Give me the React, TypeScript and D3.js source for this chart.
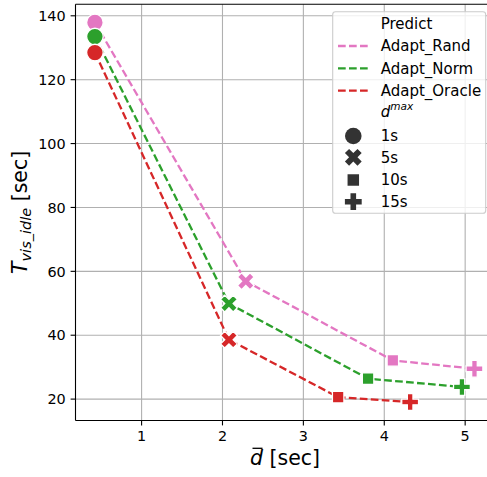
import React from 'react';
import * as d3 from 'd3';

// series, one value per d^max setting (1s, 5s, 10s, 15s)
const seriesNames = ['Adapt_Rand', 'Adapt_Norm', 'Adapt_Oracle'];
const seriesColors = ['#e377c2', '#2ca02c', '#d62728'];
const randX = [0.423, 2.288, 4.106, 5.115];
const randY = [137.9, 56.9, 32.1, 29.5];
const normX = [0.423, 2.08, 3.8, 4.96];
const normY = [133.5, 49.9, 26.4, 23.8];
const oracleX = [0.423, 2.08, 3.43, 4.32];
const oracleY = [128.5, 38.6, 20.6, 19.1];
const dmaxLabels = ['1s', '5s', '10s', '15s'];
const markerKinds = ['circle', 'x', 'square', 'plus'];
const xTicks = [1, 2, 3, 4, 5];
const yTicks = [20, 40, 60, 80, 100, 120, 140];

const W = 487;
const H = 477;
const margin = { top: 4.3, right: 0, bottom: 56.5, left: 75.5 };
const FONT = 'DejaVu Sans, sans-serif';

const markerPath = (kind: string) => {
  if (kind === 'circle') return d3.symbol(d3.symbolCircle, 216)();
  if (kind === 'square') return d3.symbol(d3.symbolSquare, 132)();
  if (kind === 'plus') return d3.symbol(d3.symbolCross, 157)();
  return d3.symbol(d3.symbolCross, 176)(); // rotated for the X
};

const Marker = ({ kind, x, y, color, edge }: any) => (
  <path
    d={markerPath(kind) || ''}
    transform={`translate(${x},${y})${kind === 'x' ? ' rotate(45)' : ''}`}
    fill={color}
    stroke={edge ? '#fff' : 'none'}
    strokeWidth={1.3}
  />
);

const App = () => {
  const x = d3.scaleLinear().domain([0.183, 5.27]).range([margin.left, W - margin.right]);
  const y = d3.scaleLinear().domain([13.3, 143.6]).range([H - margin.bottom, margin.top]);

  const series = [
    { xs: randX, ys: randY },
    { xs: normX, ys: normY },
    { xs: oracleX, ys: oracleY },
  ];

  const line = d3.line<[number, number]>()
    .x(d => x(d[0]))
    .y(d => y(d[1]));

  const x0 = margin.left;
  const x1 = W - margin.right;
  const y0 = H - margin.bottom;
  const y1 = margin.top;

  // legend layout
  const lgX = 332.7;
  const lgY = 11.7;
  const rowY = [24, 46, 68.3, 90.7];
  const markRowY = [136, 157.3, 180, 201.7];

  return (
    <svg width={W} height={H} style={{ position: 'absolute', left: 0, top: 0, fontFamily: FONT }}>
      <rect width={W} height={H} fill="#fff" />

      {/* grid */}
      {xTicks.map(t => (
        <line key={'gx' + t} x1={x(t)} x2={x(t)} y1={y0} y2={y1} stroke="#b0b0b0" strokeWidth={1.1} />
      ))}
      {yTicks.map(t => (
        <line key={'gy' + t} x1={x0} x2={x1} y1={y(t)} y2={y(t)} stroke="#b0b0b0" strokeWidth={1.1} />
      ))}

      {/* dashed lines */}
      {series.map((s, i) => (
        <path
          key={'l' + i}
          d={line(s.xs.map((v, j) => [v, s.ys[j]] as [number, number])) || ''}
          fill="none"
          stroke={seriesColors[i]}
          strokeWidth={2.3}
          strokeDasharray="7.7,3.3"
        />
      ))}

      {/* markers */}
      {series.map((s, i) =>
        s.xs.map((v, j) => (
          <Marker key={`m${i}-${j}`} kind={markerKinds[j]} x={x(v)} y={y(s.ys[j])} color={seriesColors[i]} edge />
        ))
      )}

      {/* spines */}
      <line x1={x0} x2={x0} y1={y0} y2={y1} stroke="#000" strokeWidth={1.1} />
      <line x1={x0} x2={x1} y1={y0} y2={y0} stroke="#000" strokeWidth={1.1} />
      <line x1={x0} x2={x1} y1={y1} y2={y1} stroke="#000" strokeWidth={1.1} />

      {/* x ticks */}
      {xTicks.map(t => (
        <g key={'xt' + t}>
          <line x1={x(t)} x2={x(t)} y1={y0} y2={y0 + 4.9} stroke="#000" strokeWidth={1.1} />
          <text x={x(t)} y={441} textAnchor="middle" fontSize={14.4} fill="#000">{t}</text>
        </g>
      ))}
      {/* y ticks */}
      {yTicks.map(t => (
        <g key={'yt' + t}>
          <line x1={x0 - 4.9} x2={x0} y1={y(t)} y2={y(t)} stroke="#000" strokeWidth={1.1} />
          <text x={x0 - 9.8} y={y(t) + 5.2} textAnchor="end" fontSize={14.4} fill="#000">{t}</text>
        </g>
      ))}

      {/* axis labels */}
      <text x={285} y={465} textAnchor="middle" fontSize={20.5} fill="#000">
        <tspan fontStyle="italic">d</tspan> [sec]
      </text>
      <line x1={252.5} x2={262.5} y1={448.3} y2={448.3} stroke="#000" strokeWidth={1.3} />
      <text transform={`translate(27,${(y0 + y1) / 2}) rotate(-90)`} textAnchor="middle" fontSize={20.5} fill="#000">
        <tspan fontStyle="italic">T</tspan>
        <tspan fontStyle="italic" fontSize={14.5} dy={4}>vis_idle</tspan>
        <tspan dy={-4}> [sec]</tspan>
      </text>

      {/* legend */}
      <rect x={lgX} y={lgY} width={153} height={201.6} rx={2.8} fill="#fff" fillOpacity={0.8} stroke="#ccc" strokeWidth={1.1} />
      <text x={380.7} y={rowY[0] + 5.3} fontSize={15} fill="#000">Predict</text>
      {seriesNames.map((n, i) => (
        <g key={'lg' + n}>
          <line x1={338} x2={369} y1={rowY[i + 1]} y2={rowY[i + 1]} stroke={seriesColors[i]} strokeWidth={2.3} strokeDasharray="7.7,3.3" />
          <text x={380.7} y={rowY[i + 1] + 5.3} fontSize={15} fill="#000">{n}</text>
        </g>
      ))}
      <text x={380.7} y={117} fontSize={15} fill="#000" fontStyle="italic">
        d<tspan fontSize={10.5} dy={-7}>max</tspan>
      </text>
      {dmaxLabels.map((l, i) => (
        <g key={'dm' + l}>
          <Marker kind={markerKinds[i]} x={353.3} y={markRowY[i]} color="#333" edge={false} />
          <text x={380.7} y={markRowY[i] + 5.3} fontSize={15} fill="#000">{l}</text>
        </g>
      ))}
    </svg>
  );
};

export default App;
